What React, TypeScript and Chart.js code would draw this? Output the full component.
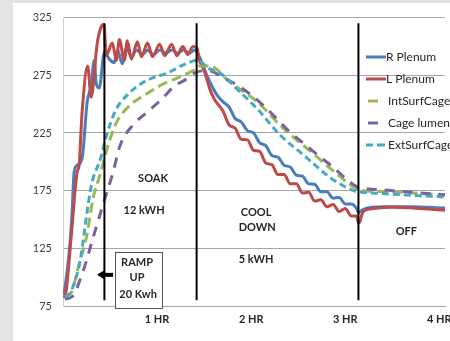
import React, { useEffect, useRef } from "react";
import { Chart, registerables } from "chart.js";

Chart.register(...registerables);

// ---- data (hours, degrees) ----
const rPlenumHours = [0.01, 0.064, 0.096, 0.118, 0.15, 0.203, 0.257, 0.299, 0.332, 0.353, 0.385, 0.44, 0.492, 0.545, 0.578, 0.631, 0.674, 0.727, 0.781, 0.845, 0.9, 0.96, 1.03, 1.09, 1.16, 1.22, 1.28, 1.34, 1.4, 1.422, 1.455, 1.529, 1.636, 1.701, 1.765, 1.83, 1.895, 1.96, 2.025, 2.09, 2.155, 2.22, 2.285, 2.35, 2.415, 2.48, 2.545, 2.61, 2.675, 2.74, 2.805, 2.87, 2.935, 3.0, 3.065, 3.12, 3.14, 3.16, 3.2, 3.4, 3.7, 4.06];
const rPlenumValues = [84, 120, 155, 191, 197, 203, 252, 266, 288, 268, 264, 295, 289, 286, 297, 285, 299, 291, 297, 293, 297, 293, 297, 294, 297, 294, 297, 294, 297, 295, 290, 275, 258, 252, 247.5, 237.5, 234.5, 227, 225, 216.5, 214, 205.5, 204, 197, 195.5, 188.5, 187.5, 181, 180.5, 174, 174, 168.5, 169, 163.5, 163.5, 159.5, 156, 157, 159, 161, 161, 160];

const lPlenumHours = [0.01, 0.03, 0.086, 0.15, 0.171, 0.203, 0.262, 0.299, 0.364, 0.406, 0.435, 0.46, 0.524, 0.567, 0.599, 0.652, 0.684, 0.727, 0.791, 0.834, 0.898, 0.952, 1.027, 1.08, 1.155, 1.209, 1.273, 1.326, 1.38, 1.422, 1.45, 1.5, 1.561, 1.61, 1.7, 1.765, 1.83, 1.895, 1.96, 2.025, 2.09, 2.155, 2.22, 2.285, 2.35, 2.415, 2.48, 2.545, 2.61, 2.675, 2.74, 2.805, 2.87, 2.935, 3.0, 3.065, 3.12, 3.14, 3.155, 3.175, 3.2, 3.3, 3.5, 3.8, 4.06];
const lPlenumValues = [82, 86, 134, 191, 197, 243, 283, 256, 303, 317, 319, 292, 303, 288, 306, 288, 305, 289, 304, 291, 303, 291, 302, 292, 302, 292, 300, 293, 300, 299, 288, 279, 263, 254, 244, 232, 229, 219.5, 219, 210, 209, 199, 197.5, 189, 189, 181, 181, 173, 173.5, 166, 167, 161, 163, 157, 159.5, 153, 153, 147, 148, 154, 157.5, 159.5, 160.5, 159.5, 158];

const intSurfHours = [0.02, 0.096, 0.16, 0.255, 0.319, 0.394, 0.489, 0.574, 0.713, 0.872, 1.053, 1.223, 1.404, 1.46, 1.561, 1.775, 2.064, 2.342, 2.631, 2.92, 3.134, 3.2, 3.5, 3.8, 4.06];
const intSurfValues = [83, 88, 108, 137, 168, 189, 217, 235, 249, 258, 267, 273, 280, 283, 283, 269, 252, 229, 209, 189, 176, 175, 174, 172.5, 171];

const lumenHours = [0.02, 0.096, 0.213, 0.319, 0.426, 0.532, 0.606, 0.745, 0.894, 1.032, 1.191, 1.298, 1.426, 1.55, 1.7, 1.882, 2.128, 2.385, 2.631, 2.845, 3.134, 3.2, 3.5, 3.8, 4.06];
const lumenValues = [81, 83, 105, 134, 163, 191, 214, 232, 243, 253, 266, 271, 278, 279, 273, 265, 249, 228, 211, 197, 178, 177, 175, 173, 171.5];

const extSurfHours = [0.02, 0.075, 0.128, 0.182, 0.257, 0.289, 0.321, 0.396, 0.46, 0.556, 0.684, 0.877, 1.11, 1.28, 1.43, 1.55, 1.701, 1.85, 2.064, 2.31, 2.556, 2.845, 3.091, 3.14, 3.4, 3.7, 4.06];
const extSurfValues = [83, 86, 97, 114, 157, 174, 186, 202, 222, 244, 258, 270, 277, 284, 288, 281, 275, 263, 246, 223, 206, 186, 175, 174, 172.5, 171, 169.5];

// phase boundaries (hours) and their vertical extent (degrees)
const phaseHours = [0.44, 1.42, 3.14];
const phaseSpan = [80, 320];

const yTicks = [75, 125, 175, 225, 275, 325];
const xTickValues = [1, 2, 3, 4];
const xTickLabels = ["1 HR", "2 HR", "3 HR", "4 HR"];

const seriesNames = ["R Plenum", "L Plenum", "IntSurfCage", "Cage lumen", "ExtSurfCage"];

// annotation texts (in data coordinates)
const notes = [
  { text: "SOAK", x: 0.957, y: 185.6 },
  { text: "12 kWH", x: 0.862, y: 158 },
  { text: "COOL", x: 2.053, y: 156.4 },
  { text: "DOWN", x: 2.064, y: 143.5 },
  { text: "5 kWH", x: 2.053, y: 115.1 },
  { text: "OFF", x: 3.649, y: 140 },
  { text: "RAMP", x: 0.787, y: 112.5 },
  { text: "UP", x: 0.787, y: 99.7 },
  { text: "20 Kwh", x: 0.798, y: 85 },
];
const rampBox = { x0: 0.548, x1: 1.053, y0: 122, y1: 73 };
const rampArrow = { tip: 0.362, tail: 0.532, y: 102 };

const pts = (xs: number[], ys: number[]) => xs.map((x, i) => ({ x, y: ys[i] }));

const FONT = "Lato, 'Open Sans', sans-serif";

export default function App() {
  const ref = useRef<HTMLCanvasElement>(null);

  useEffect(() => {
    document.body.style.margin = "0";
    const canvas = ref.current!;
    const colors = ["#4A7EBB", "#BE4B48", "#98B954", "#7D60A0", "#46AAC5"];
    const dashes: number[][] = [[], [], [10, 5], [10, 8], [7, 4]];

    const series = [
      pts(rPlenumHours, rPlenumValues),
      pts(lPlenumHours, lPlenumValues),
      pts(intSurfHours, intSurfValues),
      pts(lumenHours, lumenValues),
      pts(extSurfHours, extSurfValues),
    ];
    const orders = [5, 4, 3, 2, 1];

    const datasets: any[] = series.map((d, i) => ({
      label: seriesNames[i],
      data: d,
      borderColor: colors[i],
      backgroundColor: colors[i],
      borderWidth: 3,
      borderDash: dashes[i],
      pointRadius: 0,
      cubicInterpolationMode: "monotone",
      order: orders[i],
    }));
    phaseHours.forEach((h) => {
      datasets.push({
        label: "",
        data: [
          { x: h, y: phaseSpan[0] },
          { x: h, y: phaseSpan[1] },
        ],
        borderColor: "#000",
        borderWidth: 2,
        pointRadius: 0,
        tension: 0,
        order: 0,
      });
    });

    const bgPlugin = {
      id: "bg",
      beforeDraw(chart: any) {
        const c = chart.ctx;
        c.save();
        c.fillStyle = "#e4e4e4";
        c.fillRect(0, 0, chart.width, chart.height);
        c.fillStyle = "#ffffff";
        c.fillRect(13, 3, chart.width - 13, chart.height - 3);
        c.restore();
      },
    };

    const notesPlugin = {
      id: "notes",
      afterDraw(chart: any) {
        const c = chart.ctx;
        const xs = chart.scales.x;
        const ys = chart.scales.y;
        c.save();
        // ramp box
        const bx0 = Math.round(xs.getPixelForValue(rampBox.x0)) + 0.5;
        const bx1 = Math.round(xs.getPixelForValue(rampBox.x1)) + 0.5;
        const by0 = Math.round(ys.getPixelForValue(rampBox.y0)) + 0.5;
        const by1 = Math.round(ys.getPixelForValue(rampBox.y1)) + 0.5;
        c.fillStyle = "#fff";
        c.fillRect(bx0, by0, bx1 - bx0, by1 - by0);
        c.strokeStyle = "#555";
        c.lineWidth = 1;
        c.strokeRect(bx0, by0, bx1 - bx0, by1 - by0);
        // arrow
        const ay = ys.getPixelForValue(rampArrow.y);
        const tip = xs.getPixelForValue(rampArrow.tip);
        const tail = xs.getPixelForValue(rampArrow.tail);
        c.fillStyle = "#000";
        c.fillRect(tip + 6, ay - 2, tail - tip - 6, 4);
        c.beginPath();
        c.moveTo(tip, ay);
        c.lineTo(tip + 7, ay - 4.5);
        c.lineTo(tip + 7, ay + 4.5);
        c.closePath();
        c.fill();
        // texts
        c.fillStyle = "#262626";
        c.font = `bold 11px ${FONT}`;
        c.textAlign = "center";
        c.textBaseline = "middle";
        notes.forEach((n) => {
          c.fillText(n.text, xs.getPixelForValue(n.x), ys.getPixelForValue(n.y));
        });
        // legend
        const legendY = [57, 79, 101, 123, 145];
        c.font = `12px ${FONT}`;
        c.textAlign = "left";
        seriesNames.forEach((name, i) => {
          const y = legendY[i];
          c.strokeStyle = colors[i];
          c.lineWidth = 3;
          c.beginPath();
          if (i === 2 || i === 3) {
            c.moveTo(368, y);
            c.lineTo(378, y);
          } else if (i === 4) {
            c.moveTo(366, y);
            c.lineTo(373, y);
            c.moveTo(377, y);
            c.lineTo(385, y);
          } else {
            c.moveTo(366, y);
            c.lineTo(386, y);
          }
          c.stroke();
          c.fillStyle = "#262626";
          c.fillText(name, i === 0 || i === 1 ? 386 : 388, y);
        });
        c.restore();
      },
    };

    const chart = new Chart(canvas, {
      type: "line",
      data: { datasets },
      plugins: [bgPlugin, notesPlugin],
      options: {
        responsive: false,
        animation: false,
        parsing: true,
        layout: { padding: { left: 0, top: 15, right: 5, bottom: 0 } },
        plugins: { legend: { display: false }, tooltip: { enabled: false } },
        scales: {
          x: {
            type: "linear",
            min: 0,
            max: 4.06,
            grid: { display: false, drawTicks: false },
            border: { display: true, color: "#a6a6a6", width: 1 },
            ticks: {
              padding: 7,
              maxRotation: 0,
              color: "#262626",
              font: { family: FONT, size: 11, weight: "bold" },
              callback: (v: any) => {
                const idx = xTickValues.indexOf(Number(v));
                return idx >= 0 ? xTickLabels[idx] : "";
              },
            },
            afterBuildTicks: (scale: any) => {
              scale.ticks = xTickValues.map((v) => ({ value: v }));
            },
            afterFit: (scale: any) => {
              scale.height = 35;
              scale.paddingLeft = 0;
              scale.paddingRight = 0;
            },
          },
          y: {
            min: 75,
            max: 325,
            grid: { color: "#a6a6a6", lineWidth: 1, drawTicks: false },
            border: { display: true, color: "#d0d0d0", width: 1 },
            ticks: {
              padding: 11,
              color: "#404040",
              font: { family: FONT, size: 11 },
              stepSize: 50,
            },
            afterBuildTicks: (scale: any) => {
              scale.ticks = yTicks.map((v) => ({ value: v }));
            },
            afterFit: (scale: any) => {
              scale.width = 63;
            },
          },
        },
      } as any,
    });
    return () => chart.destroy();
  }, []);

  return (
    <div style={{ position: "absolute", left: 0, top: 0, width: 450, height: 341 }}>
      <canvas ref={ref} width={450} height={341} style={{ display: "block" }} />
    </div>
  );
}
